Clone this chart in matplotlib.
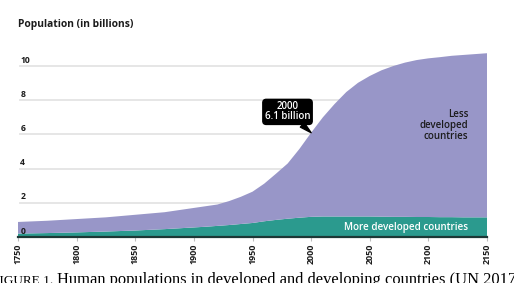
import matplotlib
matplotlib.use("Agg")
from matplotlib import pyplot as plt

# values (billions)
years = [1750, 1775, 1800, 1825, 1850, 1875, 1900, 1910, 1920, 1930, 1940,
         1950, 1960, 1970, 1980, 1990, 2000, 2010, 2020, 2030, 2040, 2050,
         2060, 2070, 2080, 2090, 2100, 2110, 2120, 2130, 2140, 2150]
more_developed = [0.20, 0.23, 0.27, 0.32, 0.38, 0.46, 0.56, 0.60, 0.65, 0.70, 0.76,
                  0.82, 0.92, 1.00, 1.07, 1.13, 1.18, 1.20, 1.20, 1.20, 1.20, 1.20,
                  1.19, 1.18, 1.18, 1.17, 1.17, 1.16, 1.16, 1.15, 1.15, 1.15]
less_developed = [0.68, 0.72, 0.78, 0.83, 0.92, 0.99, 1.14, 1.20, 1.25, 1.40, 1.59,
                  1.83, 2.20, 2.70, 3.23, 4.02, 4.92, 5.80, 6.58, 7.28, 7.82, 8.22,
                  8.56, 8.82, 9.02, 9.18, 9.28, 9.36, 9.44, 9.50, 9.55, 9.60]
x_ticks = [1750, 1800, 1850, 1900, 1950, 2000, 2050, 2100, 2150]
y_ticks = [0, 2, 4, 6, 8, 10]
callout_year = 2000
callout_value = 6.1

PURPLE = "#9896c8"
TEAL = "#2b9a8e"
DARK = "#1c1c1c"
SANS = ["Open Sans", "DejaVu Sans"]
SERIF = ["Liberation Serif", "DejaVu Serif"]

fig = plt.figure(figsize=(5.14, 2.83), dpi=100)
ax = fig.add_axes([18 / 514, 46 / 283, 469 / 514, 196.6 / 283])

for v in y_ticks[1:]:
    ax.axhline(v, xmin=0.004, xmax=1, color="#e4e4e4", lw=1.3, zorder=0)

ax.stackplot(years, more_developed, less_developed,
             colors=[TEAL, PURPLE], linewidth=0, zorder=2)

for v in y_ticks:
    ax.text(1752, v + 0.2, str(v), family=SANS, fontsize=6.2,
            fontweight="bold", color=DARK, va="baseline", ha="left", zorder=3)

ax.set_xlim(1750, 2150)
ax.set_ylim(0, 11.5)
ax.set_yticks([])
ax.set_xticks(x_ticks)
ax.set_xticklabels([str(y) for y in x_ticks], rotation=90, family=SANS,
                   fontsize=6.4, fontweight="bold", color=DARK)
ax.tick_params(axis="x", length=3, width=0.8, color="#bdbdbd", pad=2)
for side in ["top", "right", "left"]:
    ax.spines[side].set_visible(False)
ax.spines["bottom"].set_color("#1d3836")
ax.spines["bottom"].set_linewidth(1.6)
ax.spines["bottom"].set_zorder(4)
ax.patch.set_visible(False)

ax.text(2134, 0.55, "More developed countries", family=SANS, fontsize=7.1,
        fontweight="semibold", color="white", ha="right", va="center", zorder=3)
ax.text(2134, 6.55, "Less\ndeveloped\ncountries", family=SANS, fontsize=7.0,
        fontweight="semibold", color=DARK, ha="right", va="center",
        linespacing=1.0, zorder=3)

ax.annotate("2000\n6.1 billion", xy=(callout_year, callout_value),
            xytext=(-17, 15), textcoords="offset points",
            ha="center", va="center", family=SANS, fontsize=7.0,
            fontweight="semibold", color="white", linespacing=0.9,
            bbox=dict(boxstyle="round,pad=0.2,rounding_size=0.35", fc="black", ec="black"),
            arrowprops=dict(arrowstyle="wedge,tail_width=0.6,shrink_factor=0.5",
                            fc="black", ec="black", shrinkA=0, shrinkB=0),
            zorder=5)

fig.text(18 / 514, 1 - 25 / 283, "Population (in billions)", family=SANS,
         fontsize=7.4, fontweight="bold", color=DARK, ha="left", va="center")

cap_y = (283 - 284) / 283
fig.text(53 / 514, cap_y, "FIGURE 1.", family=SERIF,
         fontsize=9.5, color="black", ha="right", va="baseline")
fig.text(57 / 514, cap_y,
         "Human populations in developed and developing countries (UN 2017).",
         family=SERIF, fontsize=11.9, color="black", ha="left", va="baseline")

fig.savefig("out.png", dpi=100)
